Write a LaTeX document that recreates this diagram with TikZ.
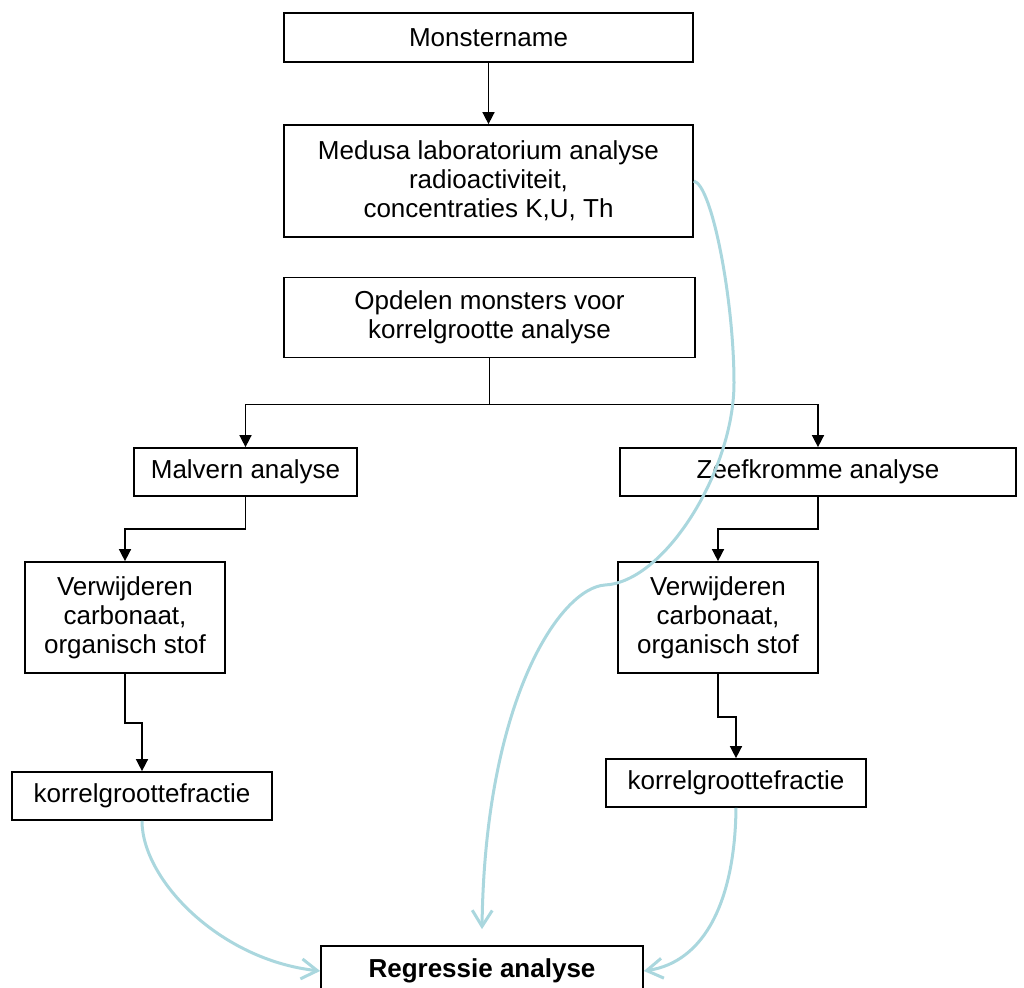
\documentclass[tikz,border=0pt]{standalone}
\usepackage{fontspec}
\setmainfont{Liberation Sans}
\usetikzlibrary{arrows.meta}
\definecolor{linkblue}{RGB}{170,215,222}

\begin{document}
\begin{tikzpicture}[x=0.5pt, y=-0.5pt,
	box/.style={draw, line width=0.85pt, align=center, inner sep=0pt, font=\fontsize{13}{14.5}\selectfont},
	flow/.style={line width=0.75pt, -{Triangle[length=6pt, width=6pt]}},
	link/.style={draw=linkblue, line width=1.5pt, -{Straight Barb[length=8pt, width=10pt]}}]
			%%%%% START %%%%%
			\useasboundingbox (0, 0) rectangle (1024, 988);
			
			\node[box, minimum width=204.5pt, minimum height=24.5pt] (mon) at (488.5, 37.5) {Monstername};
			\node[box, minimum width=204.5pt, minimum height=56pt] (med) at (488.5, 181) {Medusa laboratorium analyse\\radioactiviteit,\\concentraties K,U, Th};
			\node[box, minimum width=205.5pt, minimum height=40pt] (opd) at (489.5, 317.5) {Opdelen monsters voor\\korrelgrootte analyse};
			
			\node[box, minimum width=111.5pt, minimum height=24pt] (mal) at (245.5, 472) {Malvern analyse};
			\node[box, minimum width=198pt, minimum height=24pt] (zee) at (818, 472) {Zeefkromme analyse};
			
			\node[box, minimum width=100pt, minimum height=55.5pt] (verL) at (125, 617.5) {Verwijderen\\carbonaat,\\organisch stof};
			\node[box, minimum width=100pt, minimum height=55.5pt] (verR) at (718, 617.5) {Verwijderen\\carbonaat,\\organisch stof};
			
			\node[box, minimum width=130pt, minimum height=24pt] (korL) at (142, 796) {korrelgroottefractie};
			\node[box, minimum width=130pt, minimum height=24pt] (korR) at (736, 783) {korrelgroottefractie};
			
			\node[box, minimum width=161pt, minimum height=25pt, font=\fontsize{13}{14.5}\selectfont\bfseries] (reg) at (482, 971) {Regressie analyse};
			\coordinate (regin) at ([yshift=8pt]reg.north);
			
			\draw[flow] (mon.south) -- (med.north);
			\draw[line width=0.75pt] (opd.south) -- ++(0, 46) coordinate (split);
			\draw[flow] (split) -| (mal.north);
			\draw[flow] (split) -| (zee.north);
			\draw[flow] (mal.south) -- ++(0, 32) -| (verL.north);
			\draw[flow] (zee.south) -- ++(0, 32) -| (verR.north);
			\draw[flow] (verL.south) -- ++(0, 49) -| (korL.north);
			\draw[flow] (verR.south) -- ++(0, 43) -| (korR.north);
			
			\draw[link] (med.east) .. controls (712, 185) and (734, 300) .. (734, 383) .. controls (734, 470) and (665, 582) .. (605, 585) .. controls (560, 588) and (485, 700) .. (regin);
			\draw[link] (korL.south) .. controls (142, 880) and (220, 960) .. (reg.west);
			\draw[link] (korR.south) .. controls (735, 900) and (705, 962) .. (reg.east);
			%%%%% END %%%%%
		\end{tikzpicture}
\end{document}
